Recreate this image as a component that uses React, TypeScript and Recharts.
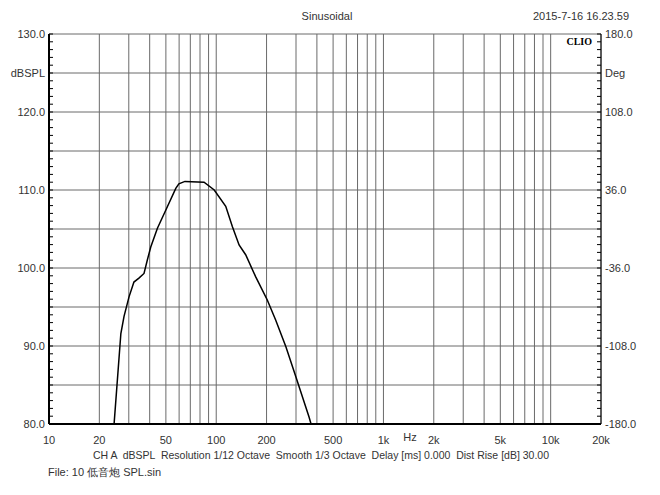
import React from 'react'
import { CartesianGrid, Line, LineChart, XAxis, YAxis } from 'recharts'

// SPL curve (Hz, dBSPL)
const freqHz = [24.5, 26.9, 28.1, 30.1, 32.2, 34.5, 37, 38.7, 40.6, 44.5, 49.9, 57.3, 59.8, 65, 84.6, 97.3, 114, 125, 137, 150, 172, 202, 227, 261, 299, 359, 369]
const splDb = [80, 91.6, 93.8, 96.3, 98.2, 98.7, 99.3, 101.0, 102.7, 105.1, 107.4, 110.2, 110.8, 111.1, 111.0, 110.0, 107.9, 105.3, 102.95, 101.7, 98.9, 95.9, 93.3, 89.9, 86.1, 80.9, 80]

const gridFreqs = [
  10, 20, 30, 40, 50, 60, 70, 80, 90,
  100, 200, 300, 400, 500, 600, 700, 800, 900,
  1000, 2000, 3000, 4000, 5000, 6000, 7000, 8000, 9000,
  10000, 20000,
]
const freqLabels: Record<number, string> = {
  10: '10', 20: '20', 50: '50', 100: '100', 200: '200', 500: '500',
  1000: '1k', 2000: '2k', 5000: '5k', 10000: '10k', 20000: '20k',
}

const dbGrid = [80, 85, 90, 95, 100, 105, 110, 115, 120, 125, 130]
const dbLabels: Record<number, string> = {
  130: '130.0', 125: 'dBSPL', 120: '120.0', 110: '110.0', 100: '100.0', 90: '90.0', 80: '80.0',
}
const dbMinorTicks = Array.from({ length: 51 }, (_, i) => 80 + i)

// right axis: 1 dB = 7.2 deg, labels every 10 steps
const degMinorTicks = Array.from({ length: 51 }, (_, i) => -180 + i * 7.2)
const degLabels: Record<number, string> = {
  0: '-180.0', 10: '-108.0', 20: '-36.0', 30: '36.0', 40: '108.0', 45: 'Deg', 50: '180.0',
}

const data = freqHz.map((f, i) => ({ f, db: splDb[i] }))

const FONT = '"Liberation Sans", Arial, sans-serif'
const TXT = '#333'

// ticks drawn inward from the axis line, label outside
const DbTick = (props: any) => {
  const { x, y, payload } = props
  const label = dbLabels[payload.value]
  return (
    <g>
      <line x1={x + 4} x2={x + 8} y1={y} y2={y} stroke="#000" />
      {label && (
        <text x={x} y={y} dy={4} fontSize={11} fill={TXT} fontFamily={FONT} textAnchor="end">
          {label}
        </text>
      )}
    </g>
  )
}

const DegTick = (props: any) => {
  const { x, y, payload } = props
  const idx = Math.round((payload.value + 180) / 7.2)
  const label = degLabels[idx]
  return (
    <g>
      <line x1={x - 4} x2={x - 8} y1={y} y2={y} stroke="#000" />
      {label && (
        <text x={x} y={y} dy={4} fontSize={11} fill={TXT} fontFamily={FONT} textAnchor="start">
          {label}
        </text>
      )}
    </g>
  )
}

const Txt = ({ x, y, children, anchor = 'left', style }: any) => (
  <div
    style={{
      position: 'absolute',
      left: x,
      top: y - 7,
      lineHeight: '14px',
      fontSize: 11,
      fontFamily: FONT,
      color: TXT,
      whiteSpace: 'pre',
      transform: anchor === 'center' ? 'translateX(-50%)' : anchor === 'right' ? 'translateX(-100%)' : undefined,
      ...style,
    }}
  >
    {children}
  </div>
)

export default function App() {
  return (
    <div style={{ position: 'relative', width: 660, height: 495, background: '#fff' }}>
      <style>{'body{margin:0}'}</style>
      <LineChart width={660} height={495} data={data} margin={{ top: 34, right: 0, bottom: 51, left: 0 }}>
        <CartesianGrid
          xAxisId="main"
          yAxisId="db"
          stroke="#6a6a6a"
          strokeWidth={1}
          horizontalValues={dbGrid}
        />
        <XAxis
          xAxisId="main"
          dataKey="f"
          type="number"
          scale="log"
          domain={[10, 20000]}
          allowDataOverflow
          ticks={gridFreqs}
          interval={0}
          tickFormatter={(v) => freqLabels[v] ?? ''}
          tick={{ fontSize: 11, fill: TXT, fontFamily: FONT }}
          tickLine={false}
          tickMargin={6}
          axisLine={{ stroke: '#000', strokeWidth: 2 }}
          height={20}
        />
        <XAxis
          xAxisId="top"
          orientation="top"
          type="number"
          scale="log"
          domain={[10, 20000]}
          allowDataOverflow
          tick={false}
          tickLine={false}
          axisLine={{ stroke: '#000', strokeWidth: 2 }}
          height={0}
        />
        <YAxis
          yAxisId="db"
          orientation="left"
          type="number"
          domain={[80, 130]}
          allowDataOverflow
          ticks={dbMinorTicks}
          interval={0}
          tick={<DbTick />}
          tickLine={false}
          tickSize={0}
          tickMargin={4}
          axisLine={{ stroke: '#000', strokeWidth: 2 }}
          width={49}
        />
        <YAxis
          yAxisId="spacer"
          orientation="right"
          type="number"
          domain={[0, 1]}
          allowDataOverflow
          tick={false}
          tickLine={false}
          axisLine={false}
          width={8}
        />
        <YAxis
          yAxisId="deg"
          orientation="right"
          type="number"
          domain={[-180, 180]}
          allowDataOverflow
          ticks={degMinorTicks}
          interval={0}
          tick={<DegTick />}
          tickLine={false}
          tickSize={0}
          tickMargin={4}
          axisLine={{ stroke: '#000', strokeWidth: 1 }}
          width={51}
        />
        <Line
          xAxisId="main"
          yAxisId="db"
          dataKey="db"
          type="linear"
          stroke="#000"
          strokeWidth={1.5}
          dot={false}
          isAnimationActive={false}
        />
      </LineChart>
      <Txt x={327} y={16} anchor="center">Sinusoidal</Txt>
      <Txt x={533} y={16}>2015-7-16 16.23.59</Txt>
      <Txt x={592} y={42} anchor="right" style={{ fontFamily: '"Liberation Serif", serif', fontWeight: 'bold', color: '#000', fontSize: 10 }}>
        CLIO
      </Txt>
      <Txt x={410} y={437} anchor="center">Hz</Txt>
      <Txt x={321} y={455} anchor="center" style={{ fontSize: 10.5 }}>
        {'CH A  dBSPL  Resolution 1/12 Octave  Smooth 1/3 Octave  Delay [ms] 0.000  Dist Rise [dB] 30.00'}
      </Txt>
      <Txt x={48} y={472}>File: 10 低音炮 SPL.sin</Txt>
    </div>
  )
}
